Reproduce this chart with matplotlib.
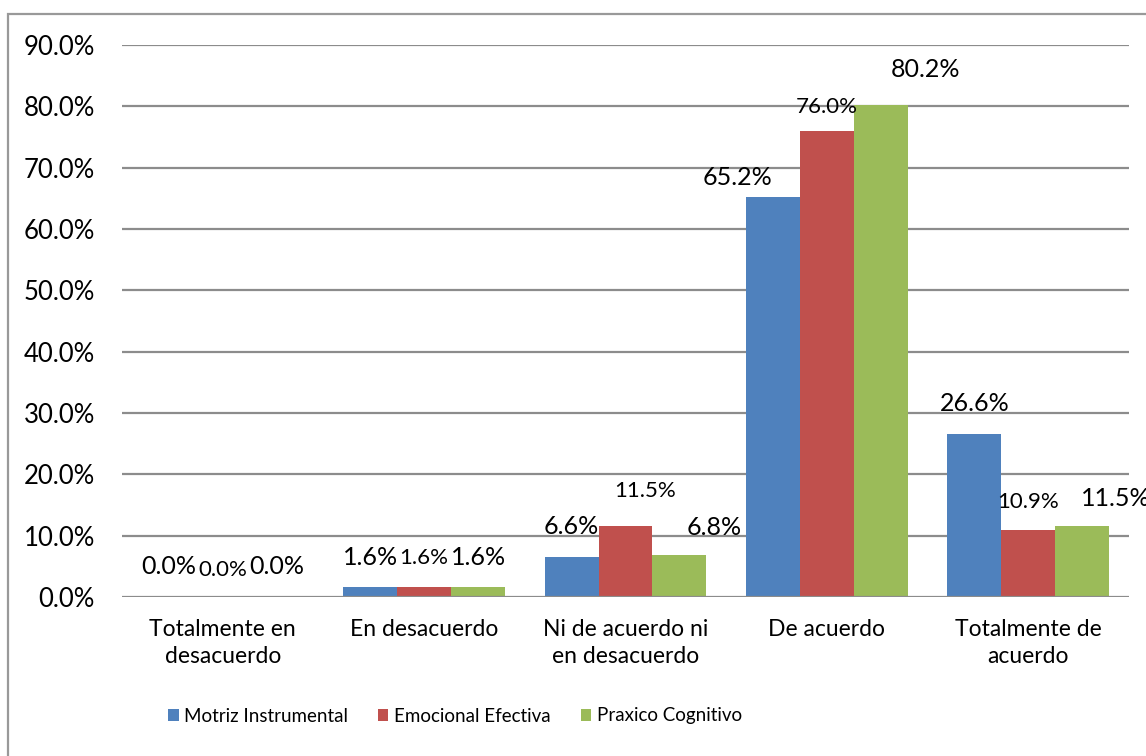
import matplotlib.pyplot as plt
import numpy as np
from matplotlib.patches import Rectangle

categories = ["Totalmente en\ndesacuerdo", "En desacuerdo", "Ni de acuerdo ni\nen desacuerdo",
              "De acuerdo", "Totalmente de\nacuerdo"]
series_names = ["Motriz Instrumental", "Emocional Efectiva", "Praxico Cognitivo"]
motriz = [0.0, 1.6, 6.6, 65.2, 26.6]
emocional = [0.0, 1.6, 11.5, 76.0, 10.9]
praxico = [0.0, 1.6, 6.8, 80.2, 11.5]
y_ticks = [0, 10, 20, 30, 40, 50, 60, 70, 80, 90]

colors = ["#4F81BD", "#C0504D", "#9BBB59"]
# label offsets in pixels (dx, dy) per series / category
label_offsets = [
    [(0, 30), (0, 30), (0, 30), (-35, 20), (0, 30)],
    [(0, 27), (0, 29), (20, 35), (0, 24), (0, 28)],
    [(0, 30), (0, 30), (35, 28), (45, 36), (33, 28)],
]
label_sizes = [18, 16, 18]

plt.rcParams["font.family"] = ["Lato", "DejaVu Sans"]

W, H = 1146, 756
fig = plt.figure(figsize=(W / 100, H / 100), dpi=100)
ax = fig.add_axes([122 / W, 1 - 597 / H, (1129 - 122) / W, (597 - 45) / H])

x = np.arange(len(categories))
bw = 0.268
grid_col = "#8c8c8c"

for yt in y_ticks[1:]:
    ax.axhline(yt, color=grid_col, lw=1.6, zorder=0)
ax.axhline(0, color=grid_col, lw=1.6, zorder=3)

for i, vals in enumerate([motriz, emocional, praxico]):
    xs = x + (i - 1) * bw
    ax.bar(xs, vals, width=bw, color=colors[i], label=series_names[i], zorder=2)
    for j, v in enumerate(vals):
        dx, dy = label_offsets[i][j]
        ax.annotate(f"{v:.1f}%", xy=(xs[j], v), xytext=(dx, dy), textcoords="offset pixels",
                    ha="center", va="center", fontsize=label_sizes[i], color="black",
                    annotation_clip=False)

ax.set_xlim(-0.5, len(categories) - 0.5)
ax.set_ylim(0, 90)
ax.set_yticks(y_ticks)
ax.set_yticklabels([f"{t:.1f}%" for t in y_ticks], fontsize=18.5)
ax.set_xticks(x)
ax.set_xticklabels(categories, fontsize=16.5, linespacing=1.35)
ax.tick_params(axis="y", length=0, pad=19.5)
ax.tick_params(axis="x", length=0, pad=16)
for s in ax.spines.values():
    s.set_visible(False)

fig.legend(loc="center", bbox_to_anchor=(455 / W, 1 - 716 / H), ncol=3, frameon=False,
           fontsize=13.5, handlelength=0.55, handleheight=0.55, handletextpad=0.3,
           columnspacing=1.6)

fig.patches.append(Rectangle((8 / W, -0.1), 2, (H - 14) / H + 0.1, transform=fig.transFigure,
                             fill=False, edgecolor="#999999", lw=1.6))

fig.savefig("out.png", dpi=100)
